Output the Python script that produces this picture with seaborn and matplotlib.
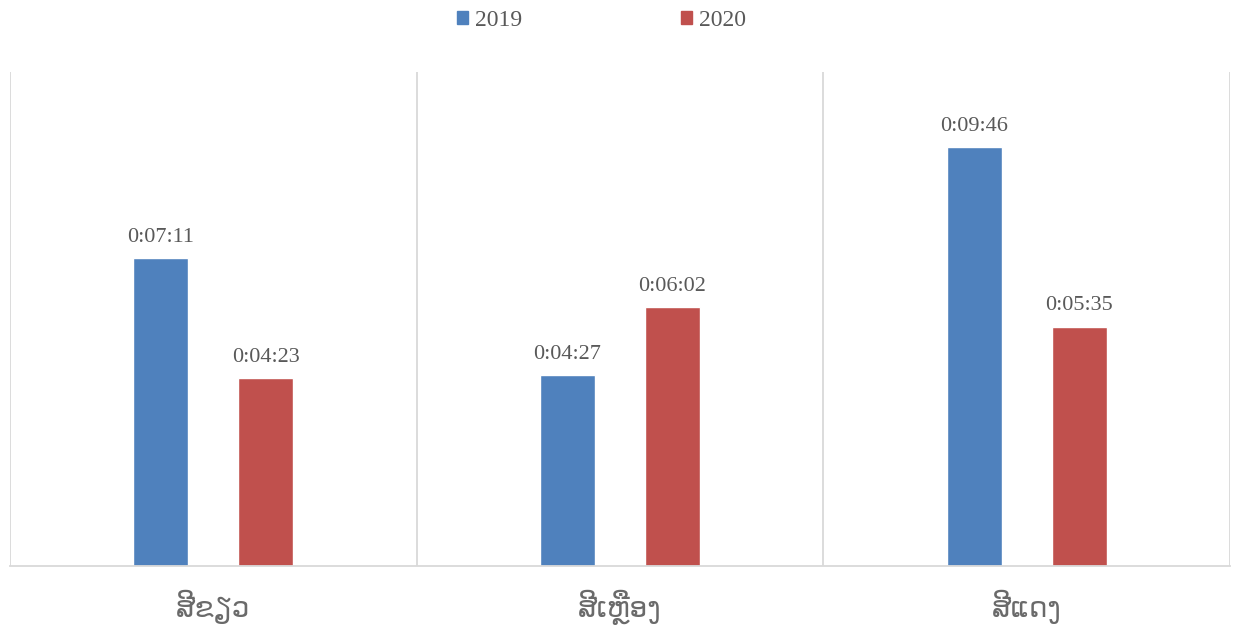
import matplotlib
matplotlib.use("Agg")
import matplotlib.pyplot as plt
import pandas as pd
import seaborn as sns
from matplotlib.patches import Patch

# data: average durations (h:mm:ss) per colour category
categories = ["ສີຂຽວ", "ສີເຫຼືອງ", "ສີແດງ"]
years = ["2019", "2020"]
times_2019 = ["0:07:11", "0:04:27", "0:09:46"]
times_2020 = ["0:04:23", "0:06:02", "0:05:35"]


def to_seconds(s):
    h, m, sec = (int(p) for p in s.split(":"))
    return h * 3600 + m * 60 + sec


rows = []
for cat, t19, t20 in zip(categories, times_2019, times_2020):
    rows.append({"cat": cat, "year": "2019", "sec": to_seconds(t19), "label": t19})
    rows.append({"cat": cat, "year": "2020", "sec": to_seconds(t20), "label": t20})
df = pd.DataFrame(rows)

blue = "#4F81BD"
red = "#C0504D"
grey_text = "#595959"
grid_col = "#D9D9D9"

sns.set_style("white")
plt.rcParams["font.family"] = ["Liberation Serif", "DejaVu Sans"]

fig = plt.figure(figsize=(12.41, 6.26), dpi=100)
ax = fig.add_axes([10 / 1241, 60 / 626, 1220 / 1241, 494 / 626])

sns.barplot(
    data=df, x="cat", y="sec", hue="year", order=categories, hue_order=years,
    palette=[blue, red], width=0.516, gap=0.477, ax=ax, legend=False,
    saturation=1,
)

ax.set_ylim(0, 691)
ax.set_xlim(-0.5, 2.5)
ax.set_xlabel("")
ax.set_ylabel("")
ax.set_yticks([])

# data labels
for cont, yr in zip(ax.containers, years):
    labels = df[df["year"] == yr]["label"].tolist()
    ax.bar_label(cont, labels=labels, padding=8, color=grey_text,
                 fontsize=16, family="Liberation Serif")

# vertical separators between categories
for xv in [-0.5, 0.5, 1.5, 2.5]:
    ax.axvline(xv, color=grid_col, lw=1.3, zorder=0)

for s in ["top", "right", "left"]:
    ax.spines[s].set_visible(False)
ax.spines["bottom"].set_color(grid_col)
ax.spines["bottom"].set_linewidth(1.3)

ax.tick_params(axis="x", length=0, pad=17)
for lab in ax.get_xticklabels():
    lab.set_family(["DejaVu Sans"])
    lab.set_fontsize(20)
    lab.set_color("#6a6a6a")

# legend
handles = [Patch(color=blue, label="2019"), Patch(color=red, label="2020")]
fig.legend(handles=handles, loc="center", bbox_to_anchor=(0.4847, 0.967),
           ncol=2, frameon=False, fontsize=17, handlelength=0.47,
           handleheight=0.47, handletextpad=0.3, columnspacing=6.7,
           labelcolor=grey_text)

fig.savefig("out.png", dpi=100)
